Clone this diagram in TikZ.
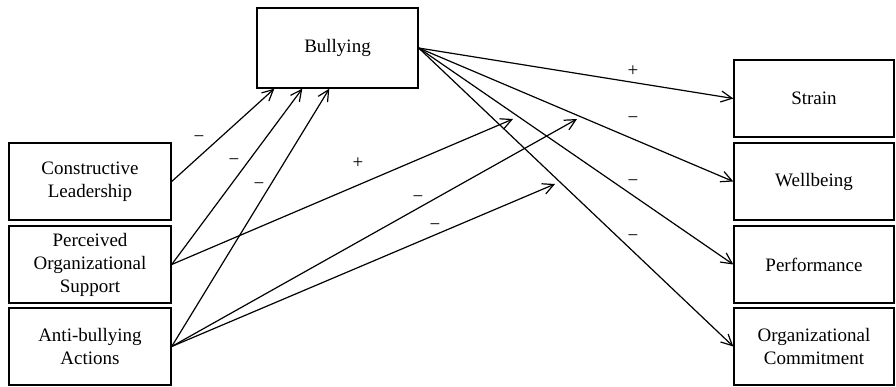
\documentclass[tikz,border=0pt]{standalone}
\usepackage{fontspec}
\setmainfont{Liberation Serif}
\usetikzlibrary{arrows.meta}
\begin{document}
\begin{tikzpicture}[x=1pt,y=-1pt,
  box/.style={draw,line width=1.4pt,rectangle,align=center,inner sep=0pt,
    font=\fontsize{19}{23}\selectfont},
  lbox/.style={box,minimum width=162pt,minimum height=77pt},
  rbox/.style={box,minimum width=160pt,minimum height=77pt},
  conn/.style={line width=1.2pt,-{Straight Barb[length=11pt,width=11pt,line width=1.2pt]}},
  sign/.style={font=\fontsize{19}{23}\selectfont,inner sep=0pt}]
\useasboundingbox (0,0) rectangle (896,386);
% nodes
\node[box,minimum width=161pt,minimum height=80pt] (B) at (337.5,48) {Bullying};
\node[lbox] (CL) at (90,181.5) {Constructive\\Leadership};
\node[lbox] (POS) at (90,264.5) {Perceived\\Organizational\\Support};
\node[lbox] (AB) at (90,346.5) {Anti-bullying\\Actions};
\node[rbox] (S) at (814,98.5) {Strain};
\node[rbox] (W) at (814,181.5) {Wellbeing};
\node[rbox] (P) at (814,264.5) {Performance};
\node[rbox] (OC) at (814,346.5) {Organizational\\Commitment};
% free ends of moderation arrows
\coordinate (m1) at (513,119);
\coordinate (m2) at (577,119);
\coordinate (m3) at (555,184);
% connectors
\draw[conn] (B.east) -- (S.west);
\draw[conn] (B.east) -- (W.west);
\draw[conn] (B.east) -- (P.west);
\draw[conn] (B.east) -- (OC.west);
\draw[conn] (CL.east) -- ([xshift=18pt]B.south west);
\draw[conn] (POS.east) -- ([xshift=46pt]B.south west);
\draw[conn] (AB.east) -- ([xshift=73pt]B.south west);
\draw[conn] (POS.east) -- (m1);
\draw[conn] (AB.east) -- (m2);
\draw[conn] (AB.east) -- (m3);
% signs
\node[sign] (s1) at (633,71) {+};
\node[sign] (s2) at (633,120) {−};
\node[sign] (s3) at (633,183) {−};
\node[sign] (s4) at (633,238) {−};
\node[sign] (s5) at (199,139) {−};
\node[sign] (s6) at (234,162) {−};
\node[sign] (s7) at (259,186) {−};
\node[sign] (s8) at (358,163) {+};
\node[sign] (s9) at (418,199) {−};
\node[sign] (s10) at (435,227) {−};
\end{tikzpicture}
\end{document}
